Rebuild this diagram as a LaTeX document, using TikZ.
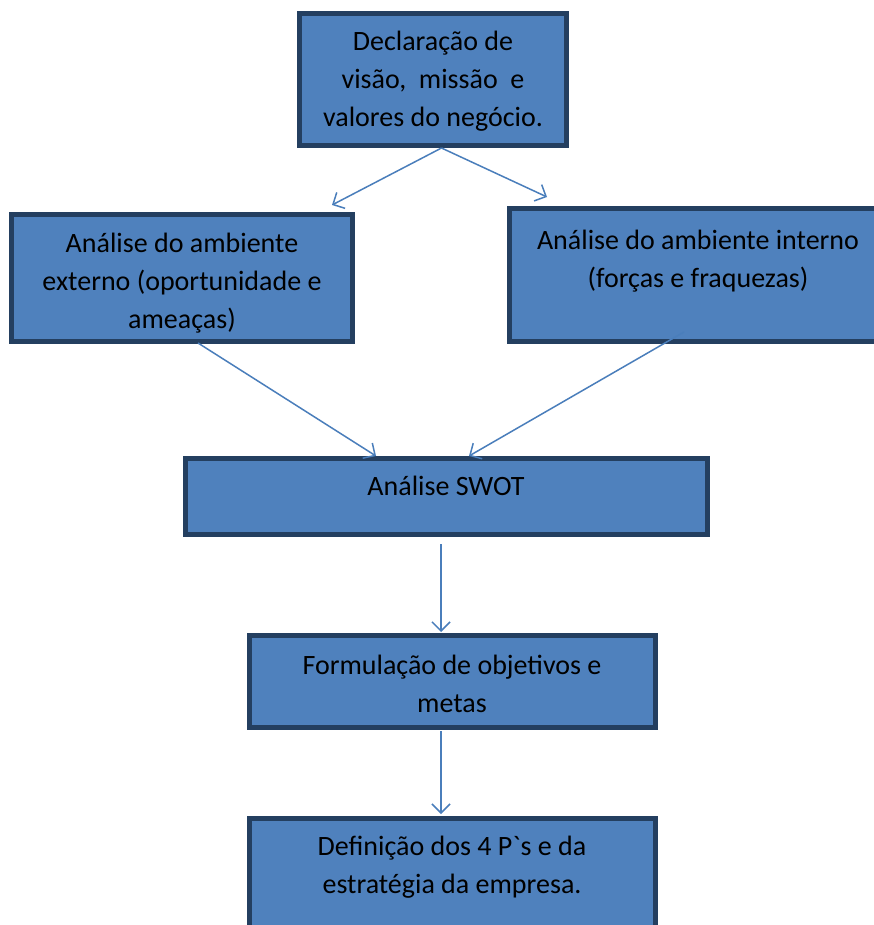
\documentclass[tikz,border=0pt]{standalone}
\usepackage{fontspec}
\setmainfont{Carlito}
\newfontfamily\rawfont{Carlito}
\usetikzlibrary{arrows.meta,calc}
\definecolor{boxfill}{HTML}{4F81BD}
\definecolor{boxline}{HTML}{243F60}
\definecolor{arr}{HTML}{4A7EBB}
\begin{document}
\begin{tikzpicture}[x=1pt,y=-1pt,
  box/.style={draw=boxline, fill=boxfill, line width=5pt, rectangle, inner sep=0pt},
  txt/.style={anchor=base, align=center, inner sep=0pt, font=\fontsize{28}{38}\selectfont},
  conn/.style={draw=arr, line width=1.5pt, -{Straight Barb[length=9pt,width=18pt,line width=1.5pt]}}]
\clip (0,0) rectangle (874,925);
\fill[white] (0,0) rectangle (874,925);
% boxes
\node[box, minimum width=267pt, minimum height=132pt] (top) at (433,79.5) {};
\node[box, minimum width=341pt, minimum height=127pt] (ext) at (182,278) {};
\node[box, minimum width=377pt, minimum height=133pt] (int) at (698,275) {};
\node[box, minimum width=522pt, minimum height=76pt] (swot) at (446.5,496.5) {};
\node[box, minimum width=406pt, minimum height=92pt] (form) at (452.5,681.5) {};
\node[box, minimum width=406pt, minimum height=129pt] (def) at (452.5,883) {};
% texts (anchored at the baseline of the last line)
\node[txt] (ttop) at (433,127) {Declaração de\\visão,\ \ missão\ \ e\\valores do negócio.};
\node[txt] (text) at (182,328) {Análise do ambiente\\externo (oportunidade e\\ameaças)};
\node[txt] (tint) at (698,287) {Análise do ambiente interno\\(forças e fraquezas)};
\node[txt] (tswot) at (446,495) {Análise SWOT};
\node[txt] (tform) at (452,712) {Formulação de objetivos e\\metas};
\node[txt] (tdef) at (452,893) {Definição dos 4 P{\rawfont`}s e da\\estratégia da empresa.};
% connector ends
\coordinate (a1) at (332,205);
\coordinate (a2) at (547,197);
\coordinate (s1) at (198,343);
\coordinate (s2) at (684,332);
\coordinate (e1) at (376,456);
\coordinate (e2) at (469,456);
\coordinate (sb) at (441,544);
\coordinate (ft) at (441,632);
\coordinate (fb) at (441,731);
\coordinate (dt) at (441,814);
\draw[conn] (top.south) ++(8.5,0) coordinate (ts) -- (a1);
\draw[conn] (ts) -- (a2);
\draw[conn] (s1) -- (e1);
\draw[conn] (s2) -- (e2);
\draw[conn] (sb) -- (ft);
\draw[conn] (fb) -- (dt);
\end{tikzpicture}
\end{document}
